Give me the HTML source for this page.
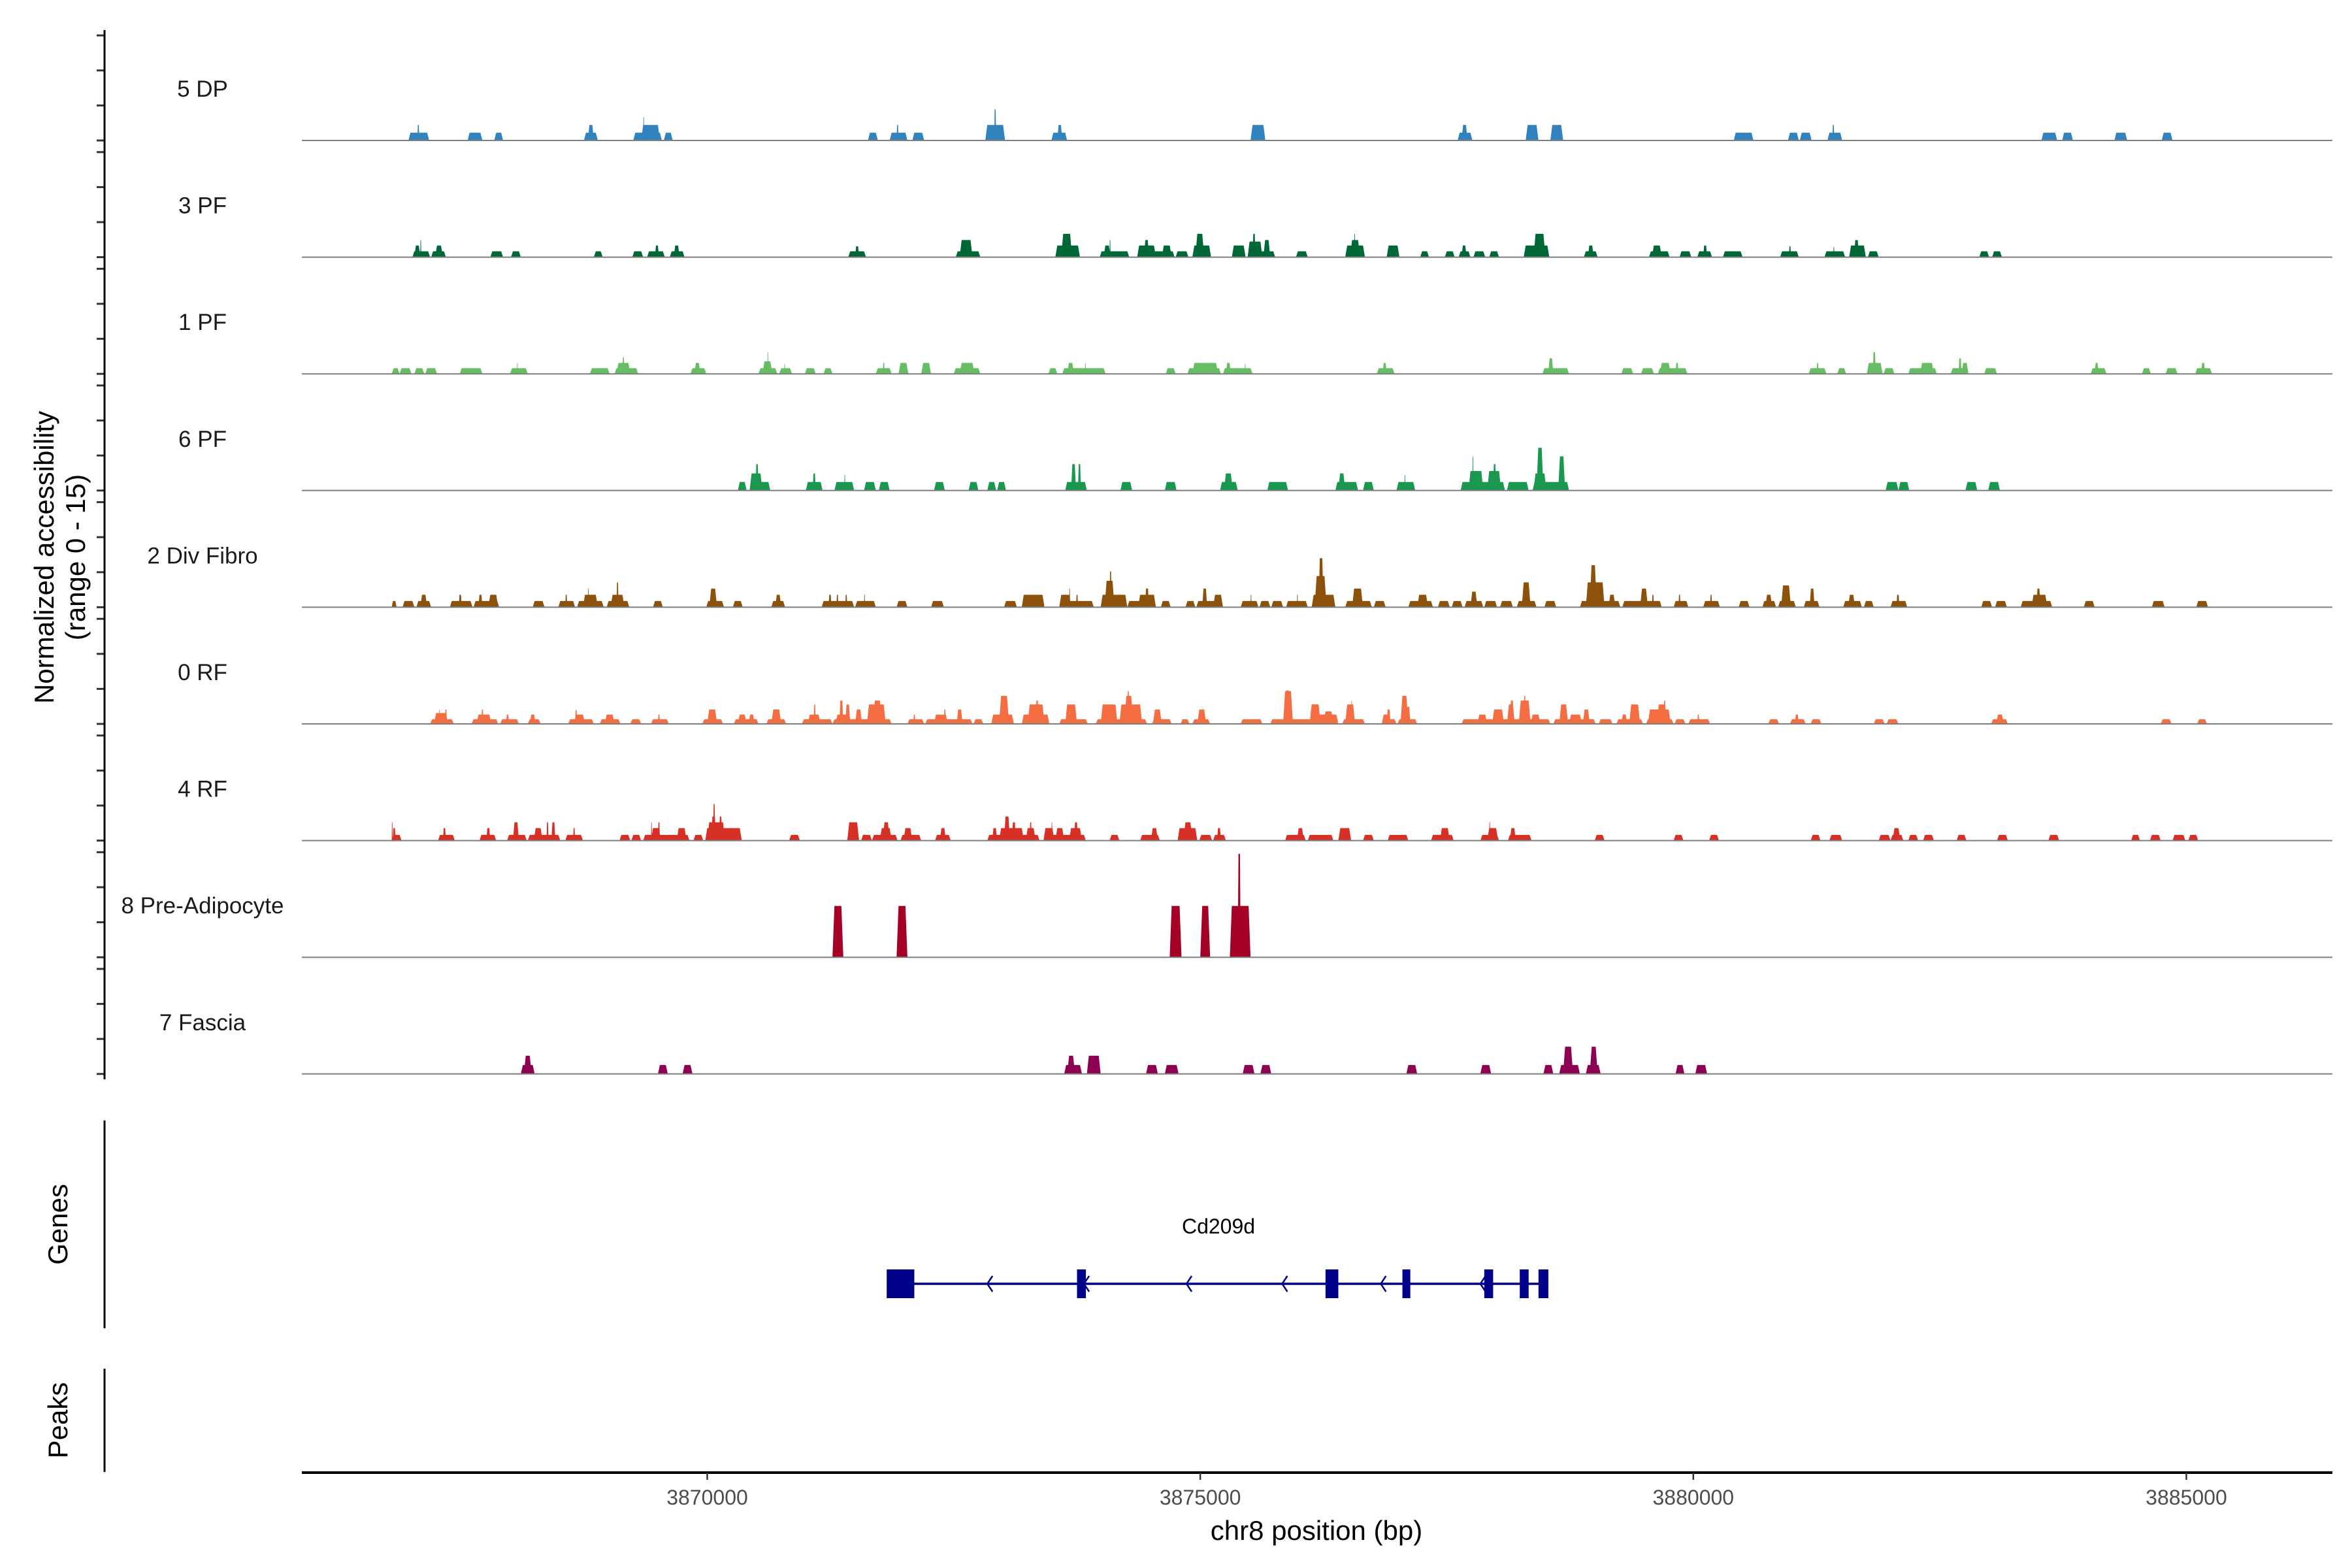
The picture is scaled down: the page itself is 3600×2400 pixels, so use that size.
<!DOCTYPE html>
<html><head><meta charset="utf-8"><title>Coverage plot chr8</title>
<style>
html,body{margin:0;padding:0;background:#fff;}
svg{display:block;font-family:"Liberation Sans",Arial,sans-serif;}
</style></head>
<body>
<svg id="chart" xmlns="http://www.w3.org/2000/svg" width="3600" height="2400" viewBox="0 0 3600 2400">
<rect x="0" y="0" width="3600" height="2400" fill="#fff"/>
<g id="tracks"></g>
<g id="axes"></g>
<g id="genes"></g>
</svg>
<script>
// ---- data (positions in kb on chr8, heights in normalized accessibility) ----
const trackLabels = ["5 DP","3 PF","1 PF","6 PF","2 Div Fibro","0 RF","4 RF","8 Pre-Adipocyte","7 Fascia"];
const xTicks = [3870000,3875000,3880000,3885000];
const xTickLabels = ["3870000","3875000","3880000","3885000"];

const dp5 = [[3866.97,3867.18,1],[3867.06,3867.08,2],[3867.57,3867.72,1],[3867.84,3867.93,1],[3868.75,3868.89,1],[3868.79,3868.85,2],[3869.25,3869.54,1],[3869.33,3869.52,2],[3869.35,3869.36,3],[3869.56,3869.65,1],[3871.63,3871.73,1],[3871.85,3872.03,1],[3871.92,3871.94,2],[3872.08,3872.20,1],[3872.82,3873.02,2],[3872.91,3872.93,4],[3873.49,3873.65,1],[3873.55,3873.60,2],[3875.51,3875.66,2],[3877.61,3877.76,1],[3877.65,3877.71,2],[3878.30,3878.43,2],[3878.55,3878.68,2],[3880.41,3880.61,1],[3880.96,3881.07,1],[3881.08,3881.20,1],[3881.36,3881.51,1],[3881.41,3881.43,2],[3883.53,3883.69,1],[3883.74,3883.85,1],[3884.27,3884.40,1],[3884.75,3884.86,1]];

const pf3 = [[3867.01,3867.19,0.75],[3867.03,3867.09,1.5],[3867.09,3867.10,2.2],[3867.20,3867.35,0.75],[3867.24,3867.32,1.5],[3867.80,3867.93,0.75],[3868.01,3868.11,0.75],[3868.85,3868.94,0.75],[3869.24,3869.35,0.75],[3869.39,3869.57,0.75],[3869.47,3869.51,1.5],[3869.62,3869.77,0.75],[3869.66,3869.72,1.5],[3871.43,3871.61,0.75],[3871.50,3871.54,1.4],[3872.52,3872.77,0.75],[3872.56,3872.69,2.2],[3873.53,3873.78,1.5],[3873.59,3873.70,3],[3873.98,3874.28,0.75],[3874.02,3874.09,1.5],[3874.08,3874.09,2.2],[3874.36,3874.55,1.5],[3874.43,3874.48,2.2],[3874.52,3874.74,0.75],[3874.61,3874.71,1.5],[3874.75,3874.88,0.75],[3874.92,3875.11,1.5],[3874.95,3875.04,3],[3875.32,3875.46,1.5],[3875.48,3875.76,0.75],[3875.48,3875.63,2],[3875.53,3875.56,3],[3875.64,3875.71,2.2],[3875.97,3876.09,0.75],[3876.47,3876.67,1.5],[3876.52,3876.62,2.2],[3876.56,3876.57,3],[3876.89,3877.02,1.5],[3877.23,3877.32,0.75],[3877.48,3877.58,0.75],[3877.62,3877.74,0.75],[3877.65,3877.70,1.5],[3877.77,3877.89,0.75],[3877.93,3878.03,0.75],[3878.28,3878.54,1.5],[3878.38,3878.50,3],[3878.89,3879.03,0.75],[3878.93,3878.99,1.5],[3879.55,3879.76,0.75],[3879.58,3879.68,1.5],[3879.86,3879.98,0.75],[3880.04,3880.19,0.75],[3880.10,3880.14,1.5],[3880.30,3880.50,0.75],[3880.88,3881.07,0.75],[3880.97,3880.99,1.4],[3881.33,3881.54,0.75],[3881.42,3881.43,1.3],[3881.58,3881.75,1.5],[3881.63,3881.68,2.2],[3881.77,3881.88,0.75],[3882.90,3883.00,0.75],[3883.03,3883.13,0.75]];

const pf1 = [[3866.80,3866.88,0.73],[3866.88,3867.00,0.73],[3867.03,3867.13,0.73],[3867.14,3867.26,0.73],[3867.49,3867.72,0.73],[3868.00,3868.18,0.73],[3868.07,3868.08,1.4],[3868.81,3869.01,0.73],[3869.06,3869.30,0.73],[3869.08,3869.22,1.4],[3869.14,3869.16,2.1],[3869.83,3869.99,0.73],[3869.87,3869.93,1.4],[3870.52,3870.71,0.73],[3870.56,3870.66,1.6],[3870.61,3870.62,2.8],[3870.73,3870.86,0.73],[3870.78,3870.79,1.3],[3870.99,3871.10,0.73],[3871.18,3871.27,0.73],[3871.71,3871.87,0.73],[3871.78,3871.80,1.4],[3871.94,3872.04,1.4],[3872.17,3872.27,1.4],[3872.50,3872.77,0.73],[3872.56,3872.71,1.4],[3873.46,3873.55,0.73],[3873.60,3874.04,0.73],[3873.65,3873.72,1.4],[3873.83,3873.84,1.4],[3874.65,3874.75,0.73],[3874.87,3875.21,0.73],[3874.92,3875.18,1.4],[3875.23,3875.53,0.73],[3875.26,3875.31,1.4],[3875.45,3875.46,1.3],[3876.79,3876.97,0.73],[3876.85,3876.89,1.4],[3878.47,3878.74,0.73],[3878.53,3878.58,2],[3879.27,3879.39,0.73],[3879.47,3879.60,0.73],[3879.64,3879.94,0.73],[3879.66,3879.77,1.4],[3879.82,3879.85,1.4],[3881.17,3881.35,0.73],[3881.25,3881.27,1.4],[3881.46,3881.55,0.73],[3881.76,3881.92,1.4],[3881.82,3881.85,2.8],[3881.93,3882.04,0.73],[3882.18,3882.47,0.73],[3882.30,3882.44,1.4],[3882.61,3882.79,0.73],[3882.69,3882.72,2],[3882.72,3882.79,1.4],[3882.95,3883.08,0.73],[3884.03,3884.19,0.73],[3884.07,3884.11,1.4],[3884.55,3884.64,0.73],[3884.79,3884.91,0.73],[3885.09,3885.26,0.73],[3885.15,3885.19,1.4]];

const pf6 = [[3870.31,3870.40,1.1],[3870.43,3870.64,1.1],[3870.43,3870.56,2.2],[3870.49,3870.52,3.4],[3871.00,3871.17,1.1],[3871.07,3871.10,2.2],[3871.29,3871.49,1.1],[3871.39,3871.40,2],[3871.59,3871.71,1.1],[3871.74,3871.85,1.1],[3872.30,3872.41,1.1],[3872.65,3872.75,1.1],[3872.84,3872.93,1.1],[3872.94,3873.03,1.1],[3873.63,3873.85,1.1],[3873.69,3873.74,3.4],[3873.76,3873.79,3.4],[3874.19,3874.31,1.1],[3874.64,3874.76,1.1],[3875.20,3875.38,1.1],[3875.24,3875.33,2.2],[3875.68,3875.89,1.1],[3876.37,3876.60,1.1],[3876.40,3876.47,2.2],[3876.65,3876.76,1.1],[3876.99,3877.18,1.1],[3877.07,3877.08,2],[3877.64,3878.09,1.1],[3877.72,3877.87,2.5],[3877.76,3877.77,4.4],[3877.91,3878.05,2.5],[3877.97,3878.00,3.4],[3878.11,3878.33,1.1],[3878.37,3878.74,1.1],[3878.38,3878.51,2.2],[3878.41,3878.48,5.5],[3878.63,3878.70,4.4],[3881.95,3882.08,1.1],[3882.08,3882.19,1.1],[3882.76,3882.88,1.1],[3882.99,3883.11,1.1]];

const divFibro2 = [[3866.80,3866.85,0.8],[3866.91,3867.03,0.8],[3867.05,3867.20,0.8],[3867.09,3867.16,1.6],[3867.39,3867.62,0.8],[3867.48,3867.51,1.6],[3867.63,3867.89,0.8],[3867.68,3867.72,1.6],[3867.78,3867.88,1.6],[3868.23,3868.35,0.8],[3868.49,3868.66,0.8],[3868.56,3868.58,1.6],[3868.68,3868.95,0.8],[3868.74,3868.89,1.6],[3868.79,3868.80,2.4],[3868.98,3869.21,0.8],[3869.02,3869.16,1.6],[3869.08,3869.10,3.2],[3869.45,3869.55,0.8],[3869.99,3870.17,0.8],[3870.02,3870.10,2.4],[3870.26,3870.36,0.8],[3870.65,3870.79,0.8],[3870.69,3870.75,1.6],[3871.16,3871.49,0.8],[3871.23,3871.26,1.6],[3871.31,3871.33,1.6],[3871.40,3871.42,1.6],[3871.50,3871.71,0.8],[3871.59,3871.60,1.6],[3871.92,3872.03,0.8],[3872.27,3872.40,0.8],[3873.01,3873.14,0.8],[3873.19,3873.42,1.6],[3873.57,3873.92,0.8],[3873.57,3873.69,1.6],[3873.67,3873.68,2.4],[3873.74,3873.76,1.6],[3873.99,3874.26,1.6],[3874.03,3874.13,3.4],[3874.08,3874.10,4.6],[3874.26,3874.55,0.8],[3874.37,3874.55,1.6],[3874.44,3874.48,2.4],[3874.60,3874.70,0.8],[3874.85,3874.95,0.8],[3874.96,3875.23,0.8],[3875.02,3875.07,2.4],[3875.13,3875.23,1.6],[3875.41,3875.59,0.8],[3875.51,3875.52,1.6],[3875.60,3875.71,0.8],[3875.72,3875.84,0.8],[3875.87,3876.09,0.8],[3875.98,3875.99,1.6],[3876.13,3876.37,1.6],[3876.16,3876.28,4],[3876.20,3876.25,6.3],[3876.47,3876.74,0.8],[3876.54,3876.65,2.4],[3876.76,3876.88,0.8],[3877.11,3877.36,0.8],[3877.20,3877.31,1.6],[3877.41,3877.53,0.8],[3877.55,3877.66,0.8],[3877.68,3877.87,0.8],[3877.74,3877.81,2],[3877.88,3878.01,0.8],[3878.04,3878.17,0.8],[3878.21,3878.41,0.8],[3878.26,3878.35,3.2],[3878.49,3878.61,0.8],[3878.85,3879.26,0.8],[3878.91,3879.10,3.2],[3878.95,3879.02,5.4],[3879.14,3879.21,1.6],[3879.28,3879.68,0.8],[3879.46,3879.54,2.4],[3879.58,3879.60,1.6],[3879.80,3879.95,0.8],[3879.85,3879.87,1.6],[3880.10,3880.27,0.8],[3880.17,3880.19,1.6],[3880.46,3880.57,0.8],[3880.70,3880.84,0.8],[3880.73,3880.80,1.6],[3880.86,3881.04,0.8],[3880.89,3880.99,2.8],[3881.12,3881.28,0.8],[3881.18,3881.23,2.4],[3881.52,3881.71,0.8],[3881.57,3881.64,1.6],[3881.73,3881.83,0.8],[3882.00,3882.17,0.8],[3882.06,3882.09,1.6],[3882.92,3883.03,0.8],[3883.06,3883.18,0.8],[3883.32,3883.64,0.8],[3883.43,3883.59,1.6],[3883.48,3883.52,2.4],[3883.96,3884.07,0.8],[3884.65,3884.78,0.8],[3885.10,3885.22,0.8]];

const rf0 = [[3867.19,3867.43,0.6],[3867.23,3867.37,1.4],[3867.28,3867.29,1.85],[3867.34,3867.36,1.85],[3867.61,3867.88,0.6],[3867.66,3867.81,1.2],[3867.71,3867.73,1.85],[3867.90,3868.09,0.6],[3867.96,3867.99,1.2],[3868.18,3868.31,0.6],[3868.20,3868.26,1.2],[3868.59,3868.85,0.6],[3868.65,3868.76,1.2],[3868.66,3868.68,1.8],[3868.91,3869.12,0.6],[3868.96,3869.06,1.2],[3869.22,3869.33,0.6],[3869.43,3869.61,0.6],[3869.50,3869.52,1.2],[3869.95,3870.16,0.6],[3870.00,3870.10,1.85],[3870.27,3870.52,0.6],[3870.31,3870.40,1.2],[3870.42,3870.48,1.2],[3870.60,3870.80,0.6],[3870.65,3870.75,1.85],[3870.96,3871.27,0.6],[3871.02,3871.15,1.2],[3871.08,3871.10,2.5],[3871.27,3871.87,0.6],[3871.30,3871.46,1.2],[3871.34,3871.38,3],[3871.40,3871.45,2.5],[3871.50,3871.57,1.85],[3871.62,3871.81,2.5],[3871.68,3871.77,3],[3872.03,3872.20,0.6],[3872.09,3872.11,1.2],[3872.21,3872.69,0.6],[3872.30,3872.44,1.2],[3872.40,3872.42,1.85],[3872.53,3872.59,1.85],[3872.70,3872.80,0.6],[3872.88,3873.11,1.2],[3872.96,3873.06,3.6],[3873.19,3873.47,1.2],[3873.25,3873.42,2.5],[3873.33,3873.36,3],[3873.57,3873.86,0.6],[3873.63,3873.75,2.5],[3873.94,3874.46,0.6],[3873.99,3874.16,2.5],[3874.18,3874.41,2.5],[3874.23,3874.32,3.6],[3874.26,3874.28,4.2],[3874.51,3874.71,0.6],[3874.52,3874.61,1.85],[3874.80,3874.89,0.6],[3874.92,3875.10,0.6],[3874.97,3875.06,1.85],[3875.41,3875.63,0.6],[3875.71,3876.35,0.6],[3875.84,3875.94,4.2],[3875.86,3875.91,4.3],[3876.11,3876.21,2.5],[3876.19,3876.40,1.2],[3876.11,3876.22,2.5],[3876.25,3876.35,1.6],[3876.44,3876.67,0.6],[3876.47,3876.57,2.5],[3876.53,3876.54,3],[3876.84,3876.99,0.6],[3876.84,3876.93,1.2],[3876.89,3876.93,1.85],[3877.00,3877.20,0.6],[3877.03,3877.11,3.6],[3877.05,3877.09,3.6],[3877.09,3877.13,2.2],[3877.65,3878.55,0.6],[3877.81,3877.91,1.2],[3877.96,3878.08,1.85],[3878.11,3878.19,2.5],[3878.14,3878.18,3],[3878.23,3878.35,3],[3878.28,3878.30,3.6],[3878.35,3878.45,1.2],[3878.58,3879.01,0.6],[3878.64,3878.73,2.5],[3878.74,3878.87,1.2],[3878.88,3878.95,1.85],[3879.04,3879.18,0.6],[3879.22,3879.49,0.6],[3879.27,3879.33,1.2],[3879.35,3879.46,2.5],[3879.52,3879.80,0.6],[3879.54,3879.77,1.85],[3879.63,3879.73,2.5],[3879.70,3879.72,3],[3879.81,3879.92,0.6],[3879.95,3880.17,0.6],[3880.04,3880.06,1.2],[3880.76,3880.87,0.6],[3880.98,3881.14,0.6],[3881.03,3881.07,1.2],[3881.19,3881.30,0.6],[3881.83,3881.94,0.6],[3881.96,3882.08,0.6],[3883.02,3883.19,0.6],[3883.07,3883.15,1.2],[3884.74,3884.85,0.6],[3885.11,3885.21,0.6]];

const rf4 = [[3866.80,3866.90,0.73],[3866.80,3866.81,2.35],[3866.81,3866.84,1.6],[3867.27,3867.44,0.73],[3867.32,3867.35,1.6],[3867.69,3867.86,0.73],[3867.76,3867.80,1.6],[3867.97,3868.17,0.73],[3868.03,3868.09,2.35],[3868.18,3868.51,0.73],[3868.24,3868.33,1.6],[3868.37,3868.39,2.35],[3868.42,3868.46,2.35],[3868.56,3868.74,0.73],[3868.64,3868.66,1.6],[3869.11,3869.22,0.73],[3869.23,3869.33,0.73],[3869.35,3869.82,0.73],[3869.43,3869.53,1.6],[3869.43,3869.44,2.35],[3869.50,3869.52,2.35],[3869.69,3869.79,1.6],[3869.86,3869.96,0.73],[3869.98,3870.35,1.6],[3870.00,3870.18,2.35],[3870.04,3870.09,3.1],[3870.06,3870.08,4.7],[3870.12,3870.15,3.1],[3870.83,3870.94,0.73],[3871.42,3871.54,2.35],[3871.56,3871.67,0.73],[3871.67,3871.93,0.73],[3871.75,3871.87,1.6],[3871.78,3871.85,2.35],[3871.96,3872.17,0.73],[3871.99,3872.08,1.6],[3872.31,3872.47,0.73],[3872.36,3872.42,1.6],[3872.84,3873.37,0.73],[3872.89,3872.94,1.6],[3872.96,3873.21,1.6],[3873.01,3873.07,3.1],[3873.09,3873.13,2.35],[3873.23,3873.33,1.6],[3873.27,3873.29,2.35],[3873.41,3873.84,0.73],[3873.41,3873.52,1.6],[3873.49,3873.50,2.35],[3873.53,3873.62,1.6],[3873.67,3873.80,1.6],[3873.72,3873.76,2.35],[3874.08,3874.18,0.73],[3874.39,3874.59,0.73],[3874.50,3874.57,1.6],[3874.77,3874.97,1.6],[3874.83,3874.92,2.35],[3874.99,3875.12,0.73],[3875.13,3875.26,0.73],[3875.17,3875.21,1.6],[3875.86,3876.07,0.73],[3875.98,3876.05,1.6],[3876.09,3876.35,0.73],[3876.40,3876.53,1.6],[3876.65,3876.76,0.73],[3876.90,3877.11,0.73],[3877.34,3877.57,0.73],[3877.43,3877.53,1.6],[3877.84,3878.03,0.73],[3877.91,3878.02,1.6],[3877.93,3877.94,2.35],[3878.12,3878.36,0.73],[3878.14,3878.20,1.6],[3879.00,3879.10,0.73],[3879.80,3879.90,0.73],[3880.16,3880.26,0.73],[3881.19,3881.29,0.73],[3881.38,3881.51,0.73],[3881.88,3882.00,0.73],[3882.00,3882.13,0.73],[3882.02,3882.10,1.6],[3882.18,3882.28,0.73],[3882.33,3882.44,0.73],[3882.67,3882.77,0.73],[3883.08,3883.19,0.73],[3883.60,3883.71,0.73],[3884.44,3884.53,0.73],[3884.63,3884.74,0.73],[3884.86,3884.99,0.73],[3885.02,3885.12,0.73]];

const preAdipocyte8 = [[3871.27,3871.38,6.6],[3871.92,3872.03,6.6],[3874.69,3874.81,6.6],[3875.00,3875.10,6.6],[3875.30,3875.51,6.6],[3875.38,3875.41,13.3]];

const fascia7 = [[3868.11,3868.25,1.15],[3868.14,3868.22,2.35],[3869.50,3869.60,1.15],[3869.75,3869.85,1.15],[3873.62,3873.80,1.15],[3873.65,3873.73,2.35],[3873.85,3873.99,2.35],[3874.45,3874.57,1.15],[3874.64,3874.78,1.15],[3875.43,3875.55,1.15],[3875.61,3875.72,1.15],[3877.09,3877.20,1.15],[3877.84,3877.95,1.15],[3878.48,3878.58,1.15],[3878.64,3878.85,1.15],[3878.68,3878.78,3.5],[3878.91,3879.06,1.15],[3878.95,3879.03,3.5],[3879.82,3879.91,1.15],[3880.02,3880.14,1.15]];

// gene model (kb)
const geneSpan = [3871.96, 3878.53];
const geneExons = [[3871.82,3872.10],[3873.75,3873.84],[3876.27,3876.40],[3877.05,3877.13],[3877.88,3877.97],[3878.24,3878.33],[3878.43,3878.53]];
const geneArrows = [3872.86,3873.84,3874.88,3875.85,3876.85,3877.86];
const geneName = "Cd209d";

const trackData = [dp5,pf3,pf1,pf6,divFibro2,rf0,rf4,preAdipocyte8,fascia7];
const trackColors = ["#3182bd","#006837","#66bd63","#1a9850","#8c510a","#f46d43","#d73027","#a50026","#8e0152"];

// ---- layout ----
const NS = "http://www.w3.org/2000/svg";
const plotL = 462, plotR = 3570;
const firstBase = 215, trackStep = 178.6, pxPerUnit = 11.9;
function xScale(kb){ return 1082.5 + (kb - 3870) * 150.93; }
function yBase(k){ return firstBase + k * trackStep; }
function mk(tag, attrs, parent){
  const el = document.createElementNS(NS, tag);
  for (const k in attrs) el.setAttribute(k, attrs[k]);
  parent.appendChild(el);
  return el;
}
const gT = document.getElementById('tracks');
const gA = document.getElementById('axes');
const gG = document.getElementById('genes');

trackData.forEach(function(data, k){
  const b = yBase(k);
  const g = mk('g', {}, gT);
  
  
  data.forEach(function(p){
    const s = xScale(p[0]), e = xScale(p[1]), h = p[2] * pxPerUnit;
    const t = Math.min(3, (e - s) / 4);
    const poly = mk('polygon', {points: s+','+b+' '+e+','+b+' '+(e-t)+','+(b-h)+' '+(s+t)+','+(b-h), fill: trackColors[k]}, g);
    
    
  });
  const ln = mk('line', {x1: plotL, x2: plotR, y1: b, y2: b, stroke: '#7f7f7f', 'stroke-width': 2}, g);
  
  
  const lb = mk('text', {x: 310, y: b - 67, 'text-anchor': 'middle', 'font-size': 35, fill: '#1a1a1a'}, g);
  lb.textContent = trackLabels[k];
  
  
  for (let j = 0; j < 4; j++){
    const ty = b - j * 53.6;
    const tk = mk('line', {x1: 148, x2: 160, y1: ty, y2: ty, stroke: '#333', 'stroke-width': 3}, gA);
    
    
  }
});

// left axis line for coverage
const yAx = mk('line', {x1: 160, x2: 160, y1: 46, y2: 1652, stroke: '#000', 'stroke-width': 3}, gA);


const yT = mk('text', {transform: 'translate(82,853) rotate(-90)', 'text-anchor': 'middle', 'font-size': 42, fill: '#000'}, gA);
yT.textContent = 'Normalized accessibility';


const yT2 = mk('text', {transform: 'translate(130,853) rotate(-90)', 'text-anchor': 'middle', 'font-size': 42, fill: '#000'}, gA);
yT2.textContent = '(range 0 - 15)';



// genes panel
const gAx = mk('line', {x1: 160, x2: 160, y1: 1715, y2: 2033, stroke: '#000', 'stroke-width': 3}, gA);


const gTl = mk('text', {transform: 'translate(103,1874) rotate(-90)', 'text-anchor': 'middle', 'font-size': 42, fill: '#000'}, gA);
gTl.textContent = 'Genes';


const pAx = mk('line', {x1: 160, x2: 160, y1: 2095, y2: 2253, stroke: '#000', 'stroke-width': 3}, gA);


const pTl = mk('text', {transform: 'translate(103,2174) rotate(-90)', 'text-anchor': 'middle', 'font-size': 42, fill: '#000'}, gA);
pTl.textContent = 'Peaks';



const geneY = 1965, geneCol = '#00008b';
const gl = mk('line', {x1: xScale(geneSpan[0]), x2: xScale(geneSpan[1]), y1: geneY, y2: geneY, stroke: geneCol, 'stroke-width': 3.5}, gG);


geneExons.forEach(function(ex){
  const r = mk('rect', {x: xScale(ex[0]), y: 1943, width: xScale(ex[1]) - xScale(ex[0]), height: 44, fill: geneCol}, gG);
  
  
});
geneArrows.forEach(function(a){
  const ax = xScale(a);
  const pl = mk('polyline', {points: (ax+5)+','+(geneY-12)+' '+(ax-3)+','+geneY+' '+(ax+5)+','+(geneY+12), fill: 'none', stroke: geneCol, 'stroke-width': 2.5}, gG);
  
  
});
const gn = mk('text', {x: 1865, y: 1888, 'text-anchor': 'middle', 'font-size': 32, fill: '#000'}, gG);
gn.textContent = geneName;



// x axis
const xAx = mk('line', {x1: plotL, x2: plotR, y1: 2254, y2: 2254, stroke: '#000', 'stroke-width': 4}, gA);


xTicks.forEach(function(v, i){
  const tx = xScale(v / 1000);
  const tk = mk('line', {x1: tx, x2: tx, y1: 2254, y2: 2265, stroke: '#333', 'stroke-width': 2.5}, gA);
  
  
  const tl = mk('text', {x: tx, y: 2303, 'text-anchor': 'middle', 'font-size': 32, fill: '#4d4d4d'}, gA);
  tl.textContent = xTickLabels[i];
  
  
});
const xT = mk('text', {x: 2015, y: 2357, 'text-anchor': 'middle', 'font-size': 42, fill: '#000'}, gA);
xT.textContent = 'chr8 position (bp)';


</script>
</body></html>
